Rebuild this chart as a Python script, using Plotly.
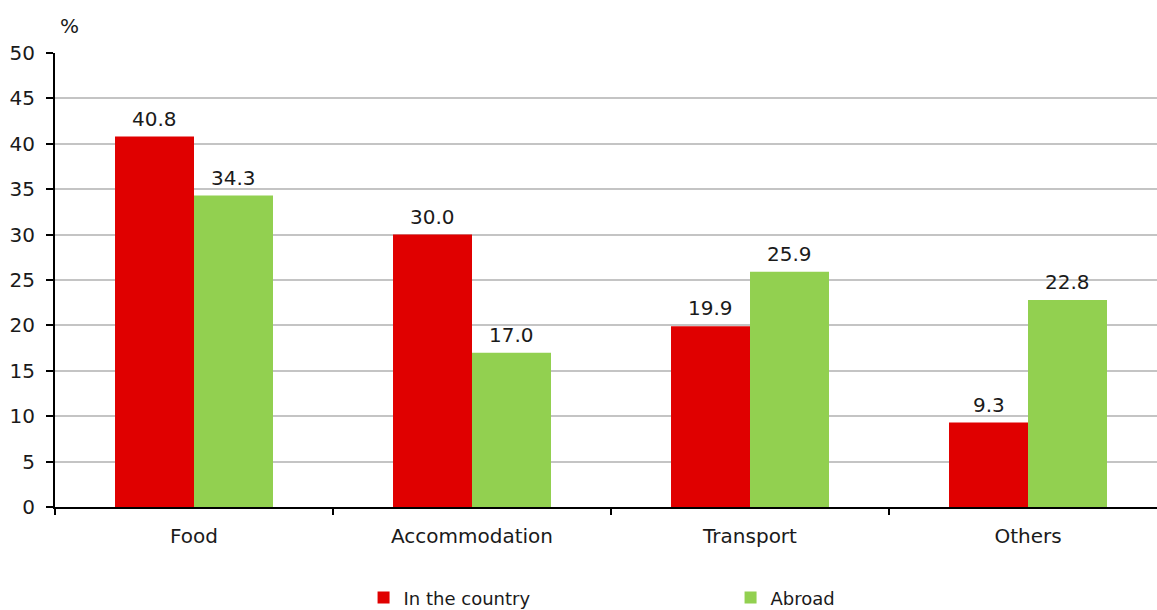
import plotly.graph_objects as go

# Share of spending by category, in the country vs abroad (%)
categories = ["Food", "Accommodation", "Transport", "Others"]
in_country = [40.8, 30.0, 19.9, 9.3]
abroad = [34.3, 17.0, 25.9, 22.8]
y_ticks = [0, 5, 10, 15, 20, 25, 30, 35, 40, 45, 50]

FONT = "DejaVu Sans"
TEXT = "#1a1a1a"
SIZE = 20
BAR_PX = 79  # width of one bar in pixels, used to centre value labels

fig = go.Figure()
fig.add_trace(go.Bar(
    name="In the country", x=categories, y=in_country,
    marker=dict(color="#E00000", line=dict(width=0)),
))
fig.add_trace(go.Bar(
    name="Abroad", x=categories, y=abroad,
    marker=dict(color="#92D050", line=dict(width=0)),
))

# Value labels above each bar
labels = []
for series, shift in ((in_country, -BAR_PX / 2), (abroad, BAR_PX / 2)):
    for cat, v in zip(categories, series):
        labels.append(dict(
            x=cat, y=v, xref="x", yref="y", text=f"{v:.1f}", showarrow=False,
            xanchor="center", yanchor="bottom", xshift=shift, yshift=4,
            font=dict(family=FONT, size=SIZE, color=TEXT),
        ))

labels.append(dict(
    text="%", xref="paper", yref="paper", x=(69 - 55) / 1102, y=1 + (53 - 26) / 454,
    xanchor="center", yanchor="middle", showarrow=False,
    font=dict(family=FONT, size=SIZE, color=TEXT),
))

fig.update_layout(
    width=1157, height=610,
    margin=dict(l=55, r=0, t=53, b=103, autoexpand=False),
    paper_bgcolor="white", plot_bgcolor="white",
    font=dict(family=FONT, size=SIZE, color=TEXT),
    barmode="group", bargap=0.4317, bargroupgap=0,
    showlegend=True,
    legend=dict(
        orientation="h", x=0.280, xanchor="left", y=-0.2, yanchor="middle",
        entrywidth=322, entrywidthmode="pixels",
        font=dict(family=FONT, size=18, color=TEXT),
        traceorder="normal",
    ),
    xaxis=dict(
        range=[-0.5, 3.464], showline=True, linecolor="black", linewidth=2,
        ticks="outside", tickson="boundaries", ticklen=6, tickwidth=2,
        tickcolor="black", showgrid=False, ticklabelstandoff=10,
        tickfont=dict(family=FONT, size=SIZE, color=TEXT),
    ),
    yaxis=dict(
        range=[0, 50], tickvals=y_ticks, showline=True, linecolor="black",
        linewidth=2, ticks="outside", ticklen=7, tickwidth=2, tickcolor="black",
        showgrid=True, gridcolor="#c4c4c4", gridwidth=1.5, zeroline=False,
        ticklabelstandoff=7,
        tickfont=dict(family=FONT, size=SIZE, color=TEXT),
    ),
    annotations=labels,
)

fig.write_html("out.html")
